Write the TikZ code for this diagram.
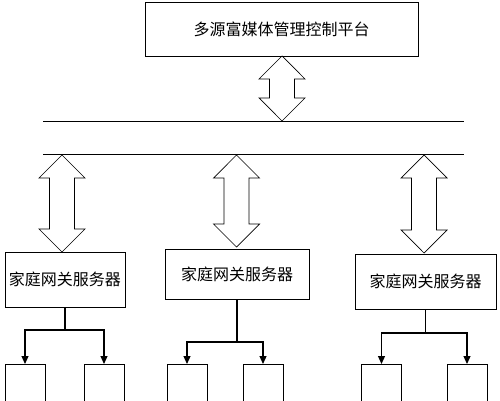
\documentclass[tikz,border=0pt]{standalone}
\usepackage{fontspec}
\newfontfamily\cjk{Noto Sans CJK SC}
\usetikzlibrary{shapes.arrows,arrows.meta}

\begin{document}
\begin{tikzpicture}[x=1pt,y=-1pt,
  box/.style={draw,line width=0.8pt,font=\cjk\fontsize{16}{19}\selectfont},
  bigarrow/.style={double arrow,draw,line width=0.7pt,rotate=90,inner xsep=0pt,inner ysep=8pt,minimum width=46pt},
  leaf/.style={draw,line width=0.8pt,minimum width=40pt,minimum height=60pt,anchor=north},
  link/.style={line width=1.2pt,-{Triangle[width=7pt,length=8pt]}}]
\useasboundingbox (0,0) rectangle (500,401);
\clip (0,0) rectangle (500,401);

% platform
\node [box,minimum width=273pt,minimum height=54pt] (plat) at (281.5,29) {多源富媒体管理控制平台};

% two bus lines
\coordinate (busaw) at (43,121.5);
\coordinate (busae) at (464,121.5);
\coordinate (busbw) at (43,154.5);
\coordinate (busbe) at (464,154.5);
\draw [line width=0.8pt] (busaw) -- (busae);
\draw [line width=0.8pt] (busbw) -- (busbe);

% hollow double arrows
\node [bigarrow,minimum height=65pt] (arrtop) at (282,88.5) {};
\node [bigarrow,minimum height=97pt] (arra) at (62,203.5) {};
\node [bigarrow,minimum height=92pt] (arrb) at (236.5,201) {};
\node [bigarrow,minimum height=98pt] (arrc) at (424,204) {};

% gateway servers
\node [box,minimum width=120pt,minimum height=55pt] (gwa) at (65,279.5) {家庭网关服务器};
\node [box,minimum width=144pt,minimum height=50pt] (gwb) at (237,274) {家庭网关服务器};
\node [box,minimum width=141pt,minimum height=55pt] (gwc) at (425.5,281.5) {家庭网关服务器};

% terminals
\node [leaf] (ta1) at (25,364) {};
\node [leaf] (ta2) at (104,364) {};
\node [leaf] (tb1) at (187,364) {};
\node [leaf] (tb2) at (263,364) {};
\node [leaf] (tc1) at (381.5,364) {};
\node [leaf] (tc2) at (467,364) {};

% branches
\coordinate (ja) at (65,330);
\coordinate (jb) at (237,342);
\coordinate (jc) at (425.5,333);
\draw [line width=1.2pt] (gwa.south) -- (ja);
\draw [line width=1.2pt] (gwb.south) -- (jb);
\draw [line width=1.2pt] (gwc.south) -- (jc);
\draw [link] (ja) -| (ta1.north);
\draw [link] (ja) -| (ta2.north);
\draw [link] (jb) -| (tb1.north);
\draw [link] (jb) -| (tb2.north);
\draw [link] (jc) -| (tc1.north);
\draw [link] (jc) -| (tc2.north);
\end{tikzpicture}
\end{document}
